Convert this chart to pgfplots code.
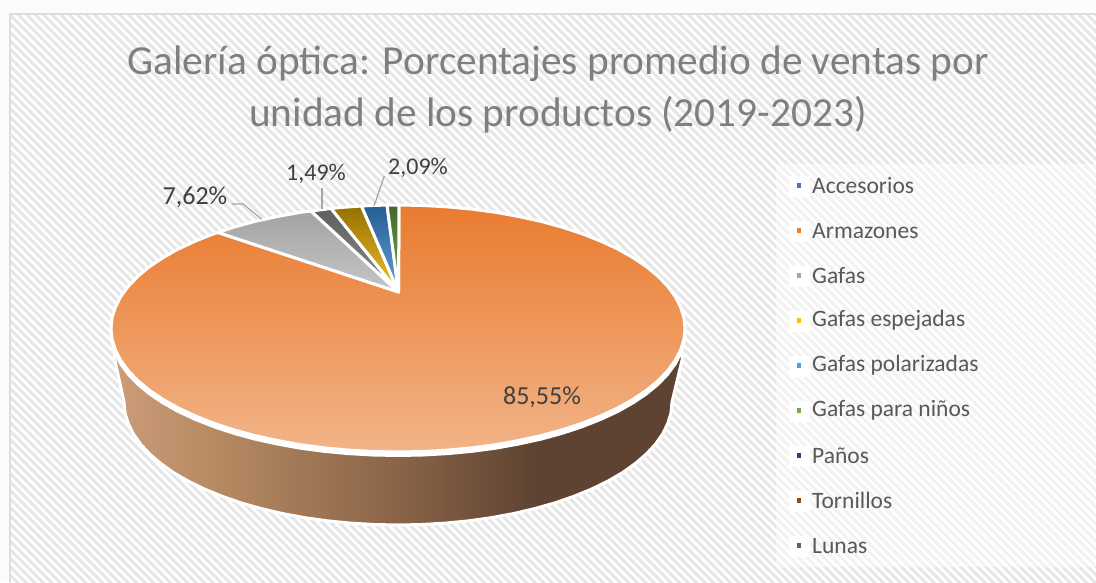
\documentclass[border=0pt]{standalone}
\usepackage{fontspec}
\setmainfont{Carlito}
\usepackage{pgfplots}
\usepackage{pgfplotstable}
\pgfplotsset{compat=1.18}
\usetikzlibrary{patterns.meta}
\definecolor{hatch}{HTML}{E6E6E6}
\definecolor{frameC}{HTML}{DDDDDD}
\definecolor{page}{HTML}{FCFCFC}
\definecolor{leader}{HTML}{A6A6A6}
\definecolor{sideA}{HTML}{CD9C78}
\definecolor{sideB}{HTML}{B38861}
\definecolor{sideC}{HTML}{8A6448}
\definecolor{sideD}{HTML}{5E4332}
\definecolor{orange1}{HTML}{E97B2F}
\definecolor{orange2}{HTML}{F2B488}
\definecolor{gray1}{HTML}{A3A3A3}
\definecolor{gray2}{HTML}{C6C6C6}
\definecolor{luna1}{HTML}{5E5E5E}
\definecolor{luna2}{HTML}{8E8E8E}
\definecolor{gold1}{HTML}{957000}
\definecolor{gold2}{HTML}{F2C12E}
\definecolor{blue1}{HTML}{255E91}
\definecolor{blue2}{HTML}{629FD8}
\definecolor{green1}{HTML}{43682B}
\definecolor{green2}{HTML}{70AD47}
\definecolor{k1}{HTML}{4472C4}
\definecolor{k2}{HTML}{ED7D31}
\definecolor{k3}{HTML}{A5A5A5}
\definecolor{k4}{HTML}{FFC000}
\definecolor{k5}{HTML}{5B9BD5}
\definecolor{k6}{HTML}{70AD47}
\definecolor{k7}{HTML}{264478}
\definecolor{k8}{HTML}{9E480E}
\definecolor{k9}{HTML}{636363}
\definecolor{legtxt}{HTML}{595959}
\definecolor{titletxt}{HTML}{7F7F7F}
\definecolor{lab}{HTML}{404040}
\pgfdeclarehorizontalshading{sideshade}{100bp}{
 color(0bp)=(sideA); color(25bp)=(sideA); color(35bp)=(sideB); color(50bp)=(sideC); color(62bp)=(sideD); color(100bp)=(sideD)}
\pgfplotstableread{
x y
398.5 292
399 205
423 205.5
447.8 206.9
472.3 209.2
496.2 212.4
519.3 216.6
541.5 221.5
562.6 227.3
582.5 233.9
600.9 241.2
617.9 249.1
633.1 257.7
646.5 266.7
658.1 276.3
667.7 286.3
675.2 296.5
680.6 307.1
683.9 317.7
685 328.5
683.9 339.3
680.6 349.9
675.2 360.5
667.7 370.7
658.1 380.7
646.5 390.3
633.1 399.3
617.9 407.9
600.9 415.8
582.5 423.1
562.6 429.7
541.5 435.5
519.3 440.4
496.2 444.6
472.3 447.8
447.8 450.1
423 451.5
398 452
373 451.5
348.2 450.1
323.7 447.8
299.8 444.6
276.7 440.4
254.5 435.5
233.4 429.7
213.5 423.1
195.1 415.8
178.1 407.9
162.9 399.3
149.5 390.3
137.9 380.7
128.3 370.7
120.8 360.5
115.4 349.9
112.1 339.3
111 328.5
112.1 317.7
115.4 307.1
120.8 296.5
128.3 286.3
137.9 276.3
149.5 266.7
162.9 257.7
178.1 249.1
195.1 241.2
213.5 233.9
218 232.5
}\armazones
\begin{document}
\begin{tikzpicture}
\begin{axis}[
  scale only axis, width=1096pt, height=582pt,
  xmin=0, xmax=1096, ymin=0, ymax=582, y dir=reverse,
  hide axis, clip=true,
]
% page
\addplot[draw=none, fill=page] coordinates {(0,0) (1096,0) (1096,582) (0,582)} --cycle;
% background
\addplot[draw=none, fill=white] coordinates {(10,14) (1096,14) (1096,582) (10,582)} --cycle;
\addplot[draw=none, pattern={Lines[angle=-45,distance=6pt,line width=3pt]}, pattern color=hatch]
  coordinates {(10,14) (1096,14) (1096,582) (10,582)} --cycle;
\addplot[draw=frameC, line width=2pt]
  coordinates {(1096,14) (10,14) (10,582)};
% legend veil
\addplot[draw=none, fill=white, fill opacity=0.5]
  coordinates {(776,164) (1096,164) (1096,567) (776,567)} --cycle;
% side of the pie
\addplot[draw=white, line width=3pt, shading=sideshade, line join=round]
  coordinates {(683,356) (672,402) (671,412.7) (667.8,423.4) (662.7,433.8) (655.5,444.1) (646.3,454) (635.3,463.5) (622.5,472.6) (607.9,481.1) (591.7,489) (574.1,496.2) (555.2,502.8) (535,508.5) (513.8,513.5) (491.7,517.6) (468.9,520.8) (445.6,523.1) (421.9,524.5) (398,525) (374.1,524.5) (350.4,523.1) (327.1,520.8) (304.3,517.6) (282.2,513.5) (261,508.5) (240.8,502.8) (221.9,496.2) (204.3,489) (188.1,481.1) (173.5,472.6) (160.7,463.5) (149.7,454) (140.5,444.1) (133.3,433.8) (128.2,423.4) (125,412.7) (124,402) (114,356) (398,340)} --cycle;
% white rim under the top face
\addplot[draw=white, fill=white, line width=3pt, line join=round] table[x=x, y expr=\thisrow{y}+3.5] {\armazones} --cycle;
% Armazones
\addplot[draw=white, line width=3pt, line join=round, top color=orange1, bottom color=orange2] table[x=x, y=y] {\armazones} --cycle;
% Gafas
\addplot[draw=white, line width=3pt, line join=round, top color=gray1, bottom color=gray2]
  coordinates {(398.5,292) (218,232.5) (233.4,227.3) (254.5,221.5) (276.7,216.6) (299.8,212.4) (311,211)} --cycle;
% Lunas
\addplot[draw=white, line width=3pt, line join=round, top color=luna1, bottom color=luna2]
  coordinates {(398.5,292) (311,211) (321,209.8) (331,208.4)} --cycle;
% Gafas espejadas
\addplot[draw=white, line width=3pt, line join=round, top color=gold1, bottom color=gold2]
  coordinates {(398.5,292) (331,208.4) (346,207.1) (361.5,206)} --cycle;
% Gafas polarizadas
\addplot[draw=white, line width=3pt, line join=round, top color=blue1, bottom color=blue2]
  coordinates {(398.5,292) (361.5,206) (374,205.4) (387,205.1)} --cycle;
% Gafas para ninos
\addplot[draw=white, line width=3pt, line join=round, top color=green1, bottom color=green2]
  coordinates {(398.5,292) (387,205.1) (399,205)} --cycle;
% leader lines
\addplot[draw=leader, line width=1.2pt] coordinates {(231.7,204) (243.3,204) (261.7,219.3)};
\addplot[draw=leader, line width=1.2pt] coordinates {(322,188.3) (322,209.3)};
\addplot[draw=leader, line width=1.2pt] coordinates {(384.3,176) (374,206)};
% legend key boxes
\addplot[white, only marks, mark=square*, mark size=10pt, mark options={draw=white, fill=white}]
  coordinates {(799,185.7) (799,230.7) (799,275.7) (799,320.7) (799,365.7) (799,410.7) (799,455.7) (799,500.7) (799,545.7)};
\addplot[k1, only marks, mark=square*, mark size=1.9pt, mark options={draw=k1, fill=k1, line width=0pt}] coordinates {(799,185.7)};
\addplot[k2, only marks, mark=square*, mark size=1.9pt, mark options={draw=k2, fill=k2, line width=0pt}] coordinates {(799,230.7)};
\addplot[k3, only marks, mark=square*, mark size=1.9pt, mark options={draw=k3, fill=k3, line width=0pt}] coordinates {(799,275.7)};
\addplot[k4, only marks, mark=square*, mark size=1.9pt, mark options={draw=k4, fill=k4, line width=0pt}] coordinates {(799,320.7)};
\addplot[k5, only marks, mark=square*, mark size=1.9pt, mark options={draw=k5, fill=k5, line width=0pt}] coordinates {(799,365.7)};
\addplot[k6, only marks, mark=square*, mark size=1.9pt, mark options={draw=k6, fill=k6, line width=0pt}] coordinates {(799,410.7)};
\addplot[k7, only marks, mark=square*, mark size=1.9pt, mark options={draw=k7, fill=k7, line width=0pt}] coordinates {(799,455.7)};
\addplot[k8, only marks, mark=square*, mark size=1.9pt, mark options={draw=k8, fill=k8, line width=0pt}] coordinates {(799,500.7)};
\addplot[k9, only marks, mark=square*, mark size=1.9pt, mark options={draw=k9, fill=k9, line width=0pt}] coordinates {(799,545.7)};
% legend text
\node[anchor=west, inner sep=0pt, text=legtxt, font=\fontsize{23.5}{28}\selectfont] at (axis cs:812,185.7) {Accesorios};
\node[anchor=west, inner sep=0pt, text=legtxt, font=\fontsize{23.5}{28}\selectfont] at (axis cs:812,230.7) {Armazones};
\node[anchor=west, inner sep=0pt, text=legtxt, font=\fontsize{23.5}{28}\selectfont] at (axis cs:812,275.7) {Gafas};
\node[anchor=west, inner sep=0pt, text=legtxt, font=\fontsize{23.5}{28}\selectfont] at (axis cs:812,320.7) {Gafas espejadas};
\node[anchor=west, inner sep=0pt, text=legtxt, font=\fontsize{23.5}{28}\selectfont] at (axis cs:812,365.7) {Gafas polarizadas};
\node[anchor=west, inner sep=0pt, text=legtxt, font=\fontsize{23.5}{28}\selectfont] at (axis cs:812,410.7) {Gafas para niños};
\node[anchor=west, inner sep=0pt, text=legtxt, font=\fontsize{23.5}{28}\selectfont] at (axis cs:812,455.7) {Paños};
\node[anchor=west, inner sep=0pt, text=legtxt, font=\fontsize{23.5}{28}\selectfont] at (axis cs:812,500.7) {Tornillos};
\node[anchor=west, inner sep=0pt, text=legtxt, font=\fontsize{23.5}{28}\selectfont] at (axis cs:812,545.7) {Lunas};
% title
\node[text=titletxt, font=\fontsize{41.3}{52}\selectfont, align=center, inner sep=0pt] at (axis cs:558,89) {Galería óptica: Porcentajes promedio de ventas por\\unidad de los productos (2019-2023)};
% data labels
\node[text=lab, font=\fontsize{26}{30}\selectfont, inner sep=0pt] at (axis cs:195,197) {7,62\%};
\node[text=lab, font=\fontsize{24}{28}\selectfont, inner sep=0pt] at (axis cs:316,174) {1,49\%};
\node[text=lab, font=\fontsize{24}{28}\selectfont, inner sep=0pt] at (axis cs:418,168) {2,09\%};
\node[text=lab, font=\fontsize{26}{30}\selectfont, inner sep=0pt] at (axis cs:542,397) {85,55\%};
\end{axis}
\end{tikzpicture}
\end{document}
